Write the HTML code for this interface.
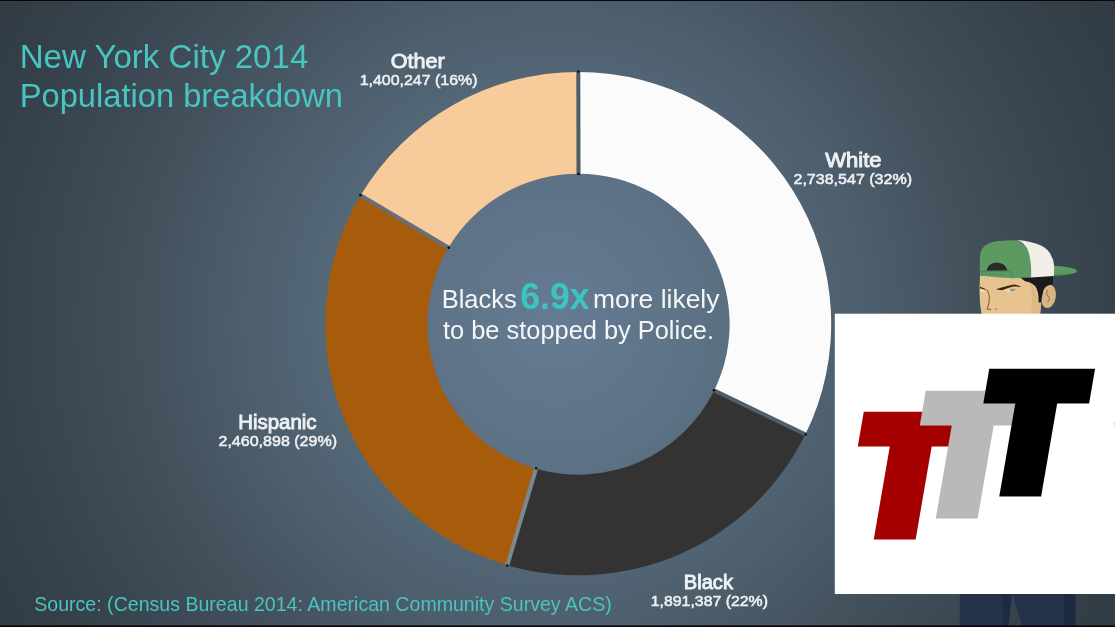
<!DOCTYPE html>
<html lang="en">
<head>
<meta charset="utf-8">
<title>New York City 2014 Population breakdown</title>
<style>
html,body{margin:0;padding:0;background:#000;}
body{width:1115px;height:627px;overflow:hidden;position:relative;font-family:"Liberation Sans",Arial,sans-serif;}
svg{display:block;position:absolute;left:0;top:0;}
text{font-family:"Liberation Sans",Arial,sans-serif;}
text.tt{font-family:"DejaVu Sans Mono","Liberation Mono",monospace;}
</style>
</head>
<body>
<svg width="1115" height="627" viewBox="0 0 1115 627">
<defs>
<radialGradient id="bg" gradientUnits="userSpaceOnUse" cx="555" cy="320" r="650">
<stop offset="0" stop-color="#657b92"/>
<stop offset="0.117" stop-color="#61768b"/>
<stop offset="0.22" stop-color="#5d7286"/>
<stop offset="0.39" stop-color="#526574"/>
<stop offset="0.48" stop-color="#4d5e6c"/>
<stop offset="0.62" stop-color="#44525e"/>
<stop offset="0.83" stop-color="#37434d"/>
<stop offset="1" stop-color="#313a42"/>
</radialGradient>
</defs>
<rect width="1115" height="627" fill="url(#bg)"/>
<g id="donut">
<path d="M578.30 71.90A252.9 251.7 0 0 1 805.40 434.36L714.18 390.43A151.1 150.5 0 0 0 578.50 173.70Z" fill="#fbfbfb"/>
<path d="M805.40 434.36A252.9 251.7 0 0 1 507.33 565.19L536.10 468.65A151.1 150.5 0 0 0 714.18 390.43Z" fill="#333333"/>
<path d="M507.33 565.19A252.9 251.7 0 0 1 360.69 195.35L448.49 247.51A151.1 150.5 0 0 0 536.10 468.65Z" fill="#a65c0b"/>
<path d="M360.69 195.35A252.9 251.7 0 0 1 578.30 71.90L578.50 173.70A151.1 150.5 0 0 0 448.49 247.51Z" fill="#f8cb9b"/>
<line x1="578.30" y1="71.60" x2="578.50" y2="174.00" stroke="#4d5c66" stroke-width="4"/>
<circle cx="578.30" cy="71.60" r="1.3" fill="#0c1016"/><circle cx="578.50" cy="174.00" r="1.3" fill="#0c1016"/>
<line x1="805.67" y1="434.49" x2="713.91" y2="390.30" stroke="#505f6a" stroke-width="4"/>
<circle cx="805.67" cy="434.49" r="1.3" fill="#0c1016"/><circle cx="713.91" cy="390.30" r="1.3" fill="#0c1016"/>
<line x1="507.25" y1="565.47" x2="536.18" y2="468.36" stroke="#7b8792" stroke-width="4"/>
<circle cx="507.25" cy="565.47" r="1.3" fill="#0c1016"/><circle cx="536.18" cy="468.36" r="1.3" fill="#0c1016"/>
<line x1="360.43" y1="195.20" x2="448.74" y2="247.67" stroke="#686f76" stroke-width="4"/>
<circle cx="360.43" cy="195.20" r="1.3" fill="#0c1016"/><circle cx="448.74" cy="247.67" r="1.3" fill="#0c1016"/>
</g>

<g id="guy">
<path d="M959.8 594H1012L1008.3 627H959.8Z" fill="#24324a"/>
<path d="M1012.5 594H1075.5V627H1022.6Z" fill="#24324a"/>
<path d="M1002 594H1012L1008.3 627H1004Z" fill="#1e2a40"/>
<path d="M1063.5 594H1075.5V627H1064.5Z" fill="#1e2a40"/>
<path d="M980.0 275.7L1039.6 275.7L1041.2 303.9L1040.0 315.2L981.9 315.2Q978.6 302.3 980.0 275.7Z" fill="#e7c48f"/>
<path d="M1030.7 282.9Q1037.2 291.0 1038.8 302.3L1040.8 304.7L1040.0 315.2L1030.7 315.2Q1033.1 300.7 1030.7 282.9Z" fill="#dcb987"/>
<ellipse cx="1048.6" cy="296.5" rx="7.2" ry="11.7" fill="#d9b584" transform="rotate(10 1048.6 296.5)"/>
<path d="M1048.0 290.2Q1045.2 293.4 1047.6 295.8Q1051.3 297.0 1047.6 301.9" fill="none" stroke="#a07c52" stroke-width="1.1"/>
<path d="M1019.0 276.5L1053.1 275.7L1052.8 284.7Q1046.0 284.1 1043.6 289.4L1041.8 297.4L1041.0 302.4L1038.6 302.4Q1038.8 291.0 1035.1 286.1Q1030.7 282.1 1025.0 281.3L1019.0 276.5Z" fill="#1b1b1f"/>
<path d="M996.6 288.9Q1007.3 285.7 1013.7 284.4Q1018.6 284.9 1021.4 287.1Q1015.4 286.1 1012.9 286.6Q1007.3 288.2 1002.0 290.2L996.6 289.4Z" fill="#3b2511"/>
<path d="M1003.7 290.3Q1009.7 288.7 1015.8 289.0Q1015.4 291.1 1012.1 292.0Q1007.3 291.8 1003.7 290.3Z" fill="#e6dcc8"/>
<path d="M1009.3 289.2Q1012.9 288.6 1015.8 289.0Q1015.4 291.1 1012.1 291.8Q1009.7 291.1 1009.3 289.2Z" fill="#8c9c8b"/>
<path d="M980.0 286.8Q984.3 287.8 987.3 290.3Q983.9 289.2 980.0 288.2Z" fill="#3b2511"/>
<path d="M980.3 289.2Q983.1 289.5 985.1 291.6L980.7 291.8Z" fill="#efe4d0"/>
<path d="M987.1 290.3Q989.9 294.2 989.2 301.5Q988.3 306.3 987.1 308.9L991.4 309.8" fill="none" stroke="#8a5f3a" stroke-width="1.1"/>
<ellipse cx="996.1" cy="309.1" rx="1.5" ry="0.8" fill="#b68a5c"/>
<path d="M1053.5 266.5Q1068.3 267.0 1077.6 271.5Q1070.2 276.2 1053.5 276.4Z" fill="#3f6e48"/>
<path d="M1053.5 265.9Q1067.4 265.6 1075.9 269.6Q1077.9 270.9 1075.9 272.6Q1068.3 275.0 1053.5 275.0Z" fill="#5c9a61"/>
<path d="M979.9 275.5L979.9 256.9C980.1 248.2 985.8 242.9 996.3 241.3Q1006.8 240.1 1017.8 240.3L1033.2 252.5L1031.8 277.6L1012.1 278.2Q996.3 277.5 979.9 275.5Z" fill="#5c9a61"/>
<path d="M1017.7 240.1Q1030.7 241.1 1041.1 245.6Q1052.8 251.5 1054.2 266.1L1053.9 276.0L1031.1 277.5Q1031.8 258.5 1026.9 247.7Q1023.2 242.5 1017.7 240.1Z" fill="#f1eee8"/>
<path d="M986.5 270.8Q988.0 262.9 996.8 262.5Q1005.5 262.9 1007.5 270.8Z" fill="#2c292b"/>
<path d="M981.0 271.4L1008.6 271.0Q1012.5 272.3 1013.0 277.1" fill="none" stroke="#4a8050" stroke-width="1"/>
<path d="M981.8 272.9L1007.7 275.5" fill="none" stroke="#3f7346" stroke-width="1.2" stroke-dasharray="1.2 2.6"/>
</g>

<rect x="834.8" y="313.7" width="281" height="280.3" fill="#ffffff"/>
<rect x="1113.6" y="422" width="1.4" height="4.5" fill="#f6dfe1"/>
<g id="logo">
<text class="tt" transform="matrix(1.6868 0 -0.2593 1.5077 844.04 532.44)" x="0" y="0" font-size="102.4" font-weight="700" fill="#a50000" stroke="#a50000" stroke-width="10.075" stroke-linejoin="miter" stroke-miterlimit="10">T</text>
<text class="tt" transform="matrix(1.6868 0 -0.2593 1.5077 906.04 510.64)" x="0" y="0" font-size="102.4" font-weight="700" fill="#b9b9b9" stroke="#b9b9b9" stroke-width="10.075" stroke-linejoin="miter" stroke-miterlimit="10">T</text>
<text class="tt" transform="matrix(1.6868 0 -0.2593 1.5077 969.44 488.74)" x="0" y="0" font-size="102.4" font-weight="700" fill="#000000" stroke="#000000" stroke-width="10.075" stroke-linejoin="miter" stroke-miterlimit="10">T</text>
</g>
<rect width="1115" height="1" fill="#05070c"/>
<rect y="625.4" width="1115" height="1.6" fill="#05070c"/>
<g id="labels">
<text x="19.72" y="68.4" font-size="32.6" font-weight="400" fill="#48c5c0" textLength="288.55" lengthAdjust="spacingAndGlyphs">New York City 2014</text>
<text x="19.71" y="106.6" font-size="32.6" font-weight="400" fill="#48c5c0" textLength="323.32" lengthAdjust="spacingAndGlyphs">Population breakdown</text>
<text x="390.75" y="67.9" font-size="19.6" font-weight="400" fill="#eef1f4" textLength="54.00" lengthAdjust="spacingAndGlyphs" stroke="#eef1f4" stroke-width="0.9">Other</text>
<text x="359.74" y="84.9" font-size="15.1" font-weight="400" fill="#eef1f4" textLength="117.77" lengthAdjust="spacingAndGlyphs" stroke="#eef1f4" stroke-width="0.55">1,400,247 (16%)</text>
<text x="825.25" y="166.6" font-size="19.6" font-weight="400" fill="#eef1f4" textLength="56.25" lengthAdjust="spacingAndGlyphs" stroke="#eef1f4" stroke-width="0.9">White</text>
<text x="793.50" y="183.9" font-size="15.1" font-weight="400" fill="#eef1f4" textLength="118.51" lengthAdjust="spacingAndGlyphs" stroke="#eef1f4" stroke-width="0.55">2,738,547 (32%)</text>
<text x="238.23" y="428.7" font-size="19.6" font-weight="400" fill="#eef1f4" textLength="78.27" lengthAdjust="spacingAndGlyphs" stroke="#eef1f4" stroke-width="0.9">Hispanic</text>
<text x="218.50" y="446.2" font-size="15.1" font-weight="400" fill="#eef1f4" textLength="118.51" lengthAdjust="spacingAndGlyphs" stroke="#eef1f4" stroke-width="0.55">2,460,898 (29%)</text>
<text x="683.74" y="588.6" font-size="19.6" font-weight="400" fill="#eef1f4" textLength="49.25" lengthAdjust="spacingAndGlyphs" stroke="#eef1f4" stroke-width="0.9">Black</text>
<text x="650.74" y="606.3" font-size="15.1" font-weight="400" fill="#eef1f4" textLength="117.27" lengthAdjust="spacingAndGlyphs" stroke="#eef1f4" stroke-width="0.55">1,891,387 (22%)</text>
<text x="441.67" y="308.0" font-size="26.2" font-weight="400" fill="#f4f6f8" textLength="75.11" lengthAdjust="spacingAndGlyphs">Blacks</text>
<text x="520.22" y="309.0" font-size="37.6" font-weight="700" fill="#3cc4c0" textLength="69.29" lengthAdjust="spacingAndGlyphs">6.9x</text>
<text x="592.97" y="308.0" font-size="26.2" font-weight="400" fill="#f4f6f8" textLength="126.53" lengthAdjust="spacingAndGlyphs">more likely</text>
<text x="442.99" y="339.4" font-size="26.2" font-weight="400" fill="#f4f6f8" textLength="271.03" lengthAdjust="spacingAndGlyphs">to be stopped by Police.</text>
<text x="34.25" y="611.0" font-size="21" font-weight="400" fill="#48c5c0" textLength="577.51" lengthAdjust="spacingAndGlyphs">Source: (Census Bureau 2014: American Community Survey ACS)</text>
</g>
</svg>
</body>
</html>
